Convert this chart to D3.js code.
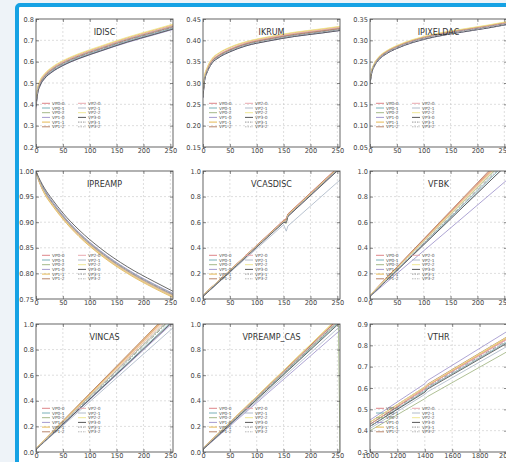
<!DOCTYPE html>
<html>
<head>
<meta charset="utf-8">
<script src="https://cdn.jsdelivr.net/npm/d3@7"></script>
<style>
html, body { margin: 0; padding: 0; background: #eef3f8; }
svg { display: block; font-family: "DejaVu Sans", sans-serif; }
</style>
</head>
<body>
<div id="chart"></div>
<script>
// chart values
const seriesNames = ["VP0-0", "VP0-1", "VP0-2", "VP1-0", "VP1-1", "VP1-2",
                     "VP2-0", "VP2-1", "VP2-2", "VP3-0", "VP3-1", "VP3-2"]
const panelTitles = ["IDISC", "IKRUM", "IPIXELDAC", "IPREAMP", "VCASDISC", "VFBK",
                     "VINCAS", "VPREAMP_CAS", "VTHR"]

const xDacTicks = [0, 50, 100, 150, 200, 250]
const xThrTicks = [1000, 1200, 1400, 1600, 1800, 2000]

const yTicksIDISC = [0.2, 0.3, 0.4, 0.5, 0.6, 0.7, 0.8]
const yTicksIKRUM = [0.15, 0.20, 0.25, 0.30, 0.35, 0.40, 0.45]
const yTicksIPIXELDAC = [0.05, 0.10, 0.15, 0.20, 0.25, 0.30, 0.35]
const yTicksIPREAMP = [0.75, 0.80, 0.85, 0.90, 0.95, 1.00]
const yTicksUnit = [0.0, 0.2, 0.4, 0.6, 0.8, 1.0]
const yTicksVTHR = [0.3, 0.4, 0.5, 0.6, 0.7, 0.8, 0.9]

const xCurve = [0, 3, 8, 16, 30, 50, 80, 120, 170, 220, 255]

const idiscValues = [
  [0.40, 0.460, 0.500, 0.530, 0.562, 0.592, 0.625, 0.660, 0.702, 0.738, 0.763],
  [0.39, 0.455, 0.495, 0.526, 0.557, 0.587, 0.620, 0.655, 0.697, 0.733, 0.758],
  [0.41, 0.470, 0.505, 0.535, 0.566, 0.596, 0.629, 0.664, 0.706, 0.742, 0.767],
  [0.38, 0.448, 0.488, 0.520, 0.551, 0.581, 0.614, 0.649, 0.690, 0.726, 0.751],
  [0.42, 0.475, 0.512, 0.541, 0.572, 0.602, 0.635, 0.670, 0.712, 0.748, 0.773],
  [0.40, 0.462, 0.501, 0.532, 0.564, 0.594, 0.627, 0.662, 0.704, 0.740, 0.765],
  [0.41, 0.468, 0.506, 0.537, 0.568, 0.598, 0.631, 0.666, 0.708, 0.744, 0.769],
  [0.39, 0.452, 0.492, 0.523, 0.554, 0.584, 0.617, 0.652, 0.694, 0.730, 0.755],
  [0.42, 0.478, 0.515, 0.544, 0.575, 0.605, 0.638, 0.673, 0.715, 0.751, 0.776],
  [0.39, 0.450, 0.490, 0.521, 0.552, 0.582, 0.615, 0.650, 0.692, 0.728, 0.753],
  [0.40, 0.458, 0.497, 0.528, 0.560, 0.590, 0.623, 0.658, 0.700, 0.736, 0.761],
  [0.40, 0.464, 0.503, 0.534, 0.565, 0.595, 0.628, 0.663, 0.705, 0.741, 0.766]
]

const ikrumValues = [
  [0.270, 0.310, 0.330, 0.349, 0.364, 0.377, 0.391, 0.402, 0.413, 0.421, 0.427],
  [0.268, 0.308, 0.328, 0.347, 0.362, 0.375, 0.389, 0.400, 0.411, 0.419, 0.425],
  [0.272, 0.312, 0.332, 0.351, 0.366, 0.379, 0.393, 0.404, 0.415, 0.423, 0.429],
  [0.265, 0.305, 0.326, 0.345, 0.360, 0.373, 0.387, 0.398, 0.409, 0.417, 0.423],
  [0.276, 0.316, 0.336, 0.355, 0.370, 0.383, 0.396, 0.407, 0.418, 0.426, 0.432],
  [0.271, 0.311, 0.331, 0.350, 0.365, 0.378, 0.392, 0.403, 0.414, 0.422, 0.428],
  [0.273, 0.313, 0.333, 0.352, 0.367, 0.380, 0.394, 0.405, 0.416, 0.424, 0.430],
  [0.267, 0.307, 0.327, 0.346, 0.361, 0.374, 0.388, 0.399, 0.410, 0.418, 0.424],
  [0.277, 0.317, 0.337, 0.356, 0.371, 0.384, 0.397, 0.408, 0.419, 0.427, 0.433],
  [0.266, 0.306, 0.326, 0.345, 0.360, 0.373, 0.387, 0.398, 0.409, 0.417, 0.423],
  [0.269, 0.309, 0.329, 0.348, 0.363, 0.376, 0.390, 0.401, 0.412, 0.420, 0.426],
  [0.268, 0.308, 0.328, 0.347, 0.362, 0.375, 0.389, 0.400, 0.411, 0.419, 0.425]
]

const ipixeldacValues = [
  [0.200, 0.225, 0.242, 0.257, 0.271, 0.284, 0.298, 0.311, 0.322, 0.332, 0.340],
  [0.198, 0.223, 0.240, 0.255, 0.269, 0.282, 0.296, 0.309, 0.320, 0.330, 0.338],
  [0.201, 0.226, 0.243, 0.258, 0.272, 0.285, 0.299, 0.312, 0.323, 0.333, 0.341],
  [0.197, 0.222, 0.239, 0.254, 0.268, 0.281, 0.295, 0.308, 0.319, 0.329, 0.337],
  [0.203, 0.228, 0.245, 0.260, 0.274, 0.287, 0.301, 0.314, 0.325, 0.335, 0.343],
  [0.202, 0.227, 0.244, 0.259, 0.273, 0.286, 0.300, 0.313, 0.324, 0.334, 0.342],
  [0.201, 0.226, 0.243, 0.258, 0.272, 0.285, 0.299, 0.312, 0.323, 0.333, 0.341],
  [0.199, 0.224, 0.241, 0.256, 0.270, 0.283, 0.297, 0.310, 0.321, 0.331, 0.339],
  [0.204, 0.229, 0.246, 0.261, 0.275, 0.288, 0.302, 0.315, 0.326, 0.336, 0.344],
  [0.197, 0.222, 0.239, 0.254, 0.268, 0.281, 0.295, 0.308, 0.319, 0.329, 0.337],
  [0.200, 0.225, 0.242, 0.257, 0.271, 0.284, 0.298, 0.311, 0.322, 0.332, 0.340],
  [0.198, 0.223, 0.240, 0.255, 0.269, 0.282, 0.296, 0.309, 0.320, 0.330, 0.338]
]

const ipreampValues = [
  [1.000, 0.990, 0.977, 0.960, 0.938, 0.911, 0.877, 0.841, 0.805, 0.776, 0.758],
  [1.000, 0.991, 0.978, 0.962, 0.940, 0.913, 0.879, 0.843, 0.807, 0.778, 0.760],
  [1.000, 0.989, 0.976, 0.959, 0.937, 0.910, 0.876, 0.840, 0.804, 0.775, 0.757],
  [1.000, 0.991, 0.979, 0.963, 0.941, 0.914, 0.880, 0.844, 0.808, 0.779, 0.761],
  [0.998, 0.987, 0.973, 0.955, 0.933, 0.906, 0.872, 0.836, 0.800, 0.771, 0.753],
  [0.999, 0.988, 0.974, 0.957, 0.935, 0.908, 0.874, 0.838, 0.802, 0.773, 0.755],
  [1.000, 0.989, 0.975, 0.958, 0.936, 0.909, 0.875, 0.839, 0.803, 0.774, 0.756],
  [1.000, 0.991, 0.978, 0.961, 0.939, 0.912, 0.878, 0.842, 0.806, 0.777, 0.759],
  [0.999, 0.988, 0.975, 0.957, 0.935, 0.908, 0.874, 0.838, 0.802, 0.773, 0.755],
  [1.000, 0.992, 0.981, 0.966, 0.945, 0.918, 0.885, 0.849, 0.813, 0.784, 0.765],
  [1.000, 0.990, 0.977, 0.961, 0.939, 0.912, 0.878, 0.842, 0.806, 0.777, 0.759],
  [1.000, 0.990, 0.978, 0.961, 0.940, 0.913, 0.879, 0.843, 0.807, 0.778, 0.760]
]

const xVcasdisc = [0, 150, 155, 158, 255]
const vcasdiscValues = [
  [0.03, 0.615, 0.63, 0.665, 1.045],
  [0.02, 0.605, 0.61, 0.655, 1.035],
  [0.03, 0.600, 0.59, 0.650, 1.030],
  [0.02, 0.600, 0.60, 0.645, 1.025],
  [0.03, 0.610, 0.62, 0.660, 1.040],
  [0.03, 0.612, 0.62, 0.662, 1.042],
  [0.03, 0.608, 0.61, 0.658, 1.038],
  [0.02, 0.580, 0.53, 0.570, 0.930],
  [0.03, 0.606, 0.61, 0.656, 1.036],
  [0.02, 0.598, 0.60, 0.645, 1.020],
  [0.02, 0.602, 0.60, 0.650, 1.030],
  [0.03, 0.604, 0.61, 0.652, 1.032]
]

const xLinear = [0, 255]
const vfbkValues = [
  [0.03, 1.14], [0.02, 1.07], [0.03, 1.10], [0.02, 0.93], [0.03, 1.13], [0.03, 1.15],
  [0.03, 1.12], [0.02, 1.05], [0.03, 1.11], [0.02, 1.05], [0.02, 1.08], [0.02, 1.09]
]
const vincasValues = [
  [0.03, 1.10], [0.02, 1.03], [0.03, 1.06], [0.02, 1.01], [0.03, 1.11], [0.03, 1.12],
  [0.03, 1.08], [0.02, 0.97], [0.03, 1.09], [0.02, 1.02], [0.02, 1.05], [0.02, 1.07]
]

const xVpreamp = [0, 252, 255]
const vpreampCasValues = [
  [0.03, 1.04, 1.05], [0.02, 1.01, 1.02], [0.03, 1.02, 0.00], [0.02, 0.94, 0.95],
  [0.03, 1.05, 1.06], [0.03, 1.04, 1.05], [0.03, 1.03, 1.04], [0.02, 0.97, 0.98],
  [0.03, 1.05, 1.06], [0.02, 1.00, 1.01], [0.02, 1.02, 1.03], [0.03, 1.03, 1.04]
]

const xVthr = [1000, 1400, 1420, 2000]
const vthrValues = [
  [0.43, 0.595, 0.610, 0.830],
  [0.42, 0.585, 0.600, 0.815],
  [0.40, 0.550, 0.560, 0.770],
  [0.45, 0.620, 0.635, 0.865],
  [0.43, 0.600, 0.612, 0.835],
  [0.44, 0.605, 0.618, 0.840],
  [0.43, 0.598, 0.610, 0.828],
  [0.41, 0.570, 0.582, 0.795],
  [0.44, 0.605, 0.615, 0.838],
  [0.42, 0.580, 0.595, 0.810],
  [0.43, 0.590, 0.605, 0.822],
  [0.42, 0.588, 0.600, 0.818]
]

// layout and style
const width = 506
const height = 462
const colLeft = [36, 203, 370]
const rowTop = [19, 171, 324]
const pw = 137
const ph = 128

const colors = ["#d9777a", "#6aa7b0", "#9bb07a", "#9a8fc9", "#e3b040", "#b0785a",
                "#e8a0a8", "#a8b4c4", "#eee48a", "#444444", "#8a8a8a", "#b0b0b0"]
const dashes = [null, null, null, null, null, null, null, null, null, null, "4,1.5,1,1.5", "3,2"]

const panels = [
  { x: xCurve, values: idiscValues, xDom: [0, 255], xTicks: xDacTicks, yTicks: yTicksIDISC, fmt: ".1f" },
  { x: xCurve, values: ikrumValues, xDom: [0, 255], xTicks: xDacTicks, yTicks: yTicksIKRUM, fmt: ".2f" },
  { x: xCurve, values: ipixeldacValues, xDom: [0, 255], xTicks: xDacTicks, yTicks: yTicksIPIXELDAC, fmt: ".2f" },
  { x: xCurve, values: ipreampValues, xDom: [0, 255], xTicks: xDacTicks, yTicks: yTicksIPREAMP, fmt: ".2f" },
  { x: xVcasdisc, values: vcasdiscValues, xDom: [0, 255], xTicks: xDacTicks, yTicks: yTicksUnit, fmt: ".1f" },
  { x: xLinear, values: vfbkValues, xDom: [0, 255], xTicks: xDacTicks, yTicks: yTicksUnit, fmt: ".1f" },
  { x: xLinear, values: vincasValues, xDom: [0, 255], xTicks: xDacTicks, yTicks: yTicksUnit, fmt: ".1f" },
  { x: xVpreamp, values: vpreampCasValues, xDom: [0, 255], xTicks: xDacTicks, yTicks: yTicksUnit, fmt: ".1f" },
  { x: xVthr, values: vthrValues, xDom: [1000, 2000], xTicks: xThrTicks, yTicks: yTicksVTHR, fmt: ".1f" }
]

const svg = d3.select('#chart')
  .append('svg')
  .attr('width', width)
  .attr('height', height)

// white card with the blue frame
svg.append('rect')
  .attr('x', 17).attr('y', 5)
  .attr('width', 620).attr('height', 620)
  .attr('rx', 3)
  .attr('fill', '#ffffff')
  .attr('stroke', '#16a2e4')
  .attr('stroke-width', 4)

const drawPanel = function (p, i) {
  const left = colLeft[i % 3]
  const top = rowTop[Math.floor(i / 3)]
  const yDom = [p.yTicks[0], p.yTicks[p.yTicks.length - 1]]

  const xScale = d3.scaleLinear().domain(p.xDom).range([0, pw])
  const yScale = d3.scaleLinear().domain(yDom).range([ph, 0])

  const g = svg.append('g').attr('transform', 'translate(' + left + ',' + top + ')')

  g.append('clipPath').attr('id', 'clip' + i)
    .append('rect').attr('width', pw).attr('height', ph)

  // dashed grid
  g.append('g').selectAll('line')
    .data(p.xTicks.filter(t => t > p.xDom[0] && t < p.xDom[1]))
    .enter().append('line')
    .attr('x1', d => xScale(d)).attr('x2', d => xScale(d))
    .attr('y1', 0).attr('y2', ph)
    .attr('stroke', '#c8c8c8').attr('stroke-width', 0.6).attr('stroke-dasharray', '2,2')
  g.append('g').selectAll('line')
    .data(p.yTicks.slice(1, -1))
    .enter().append('line')
    .attr('y1', d => yScale(d)).attr('y2', d => yScale(d))
    .attr('x1', 0).attr('x2', pw)
    .attr('stroke', '#c8c8c8').attr('stroke-width', 0.6).attr('stroke-dasharray', '2,2')

  // series
  const line = d3.line()
    .x(d => xScale(d[0]))
    .y(d => yScale(d[1]))
    .curve(p.x.length > 6 ? d3.curveMonotoneX : d3.curveLinear)

  g.append('g').attr('clip-path', 'url(#clip' + i + ')')
    .selectAll('path')
    .data(p.values)
    .enter().append('path')
    .attr('d', vals => line(vals.map((v, k) => [p.x[k], v])))
    .attr('fill', 'none')
    .attr('stroke', (d, k) => colors[k])
    .attr('stroke-width', 1)
    .attr('stroke-opacity', 0.8)
    .attr('stroke-dasharray', (d, k) => dashes[k])

  // axes with inward ticks on all sides
  const yAxis = d3.axisLeft(yScale).tickValues(p.yTicks).tickFormat(d3.format(p.fmt)).tickSize(-3).tickPadding(2)
  const xAxis = d3.axisBottom(xScale).tickValues(p.xTicks).tickFormat(d3.format('d')).tickSize(-3).tickPadding(2)

  const ya = g.append('g').call(yAxis)
  const xa = g.append('g').attr('transform', 'translate(0,' + ph + ')').call(xAxis)
  g.append('g').attr('transform', 'translate(' + pw + ',0)')
    .call(d3.axisRight(yScale).tickValues(p.yTicks).tickFormat('').tickSize(-3))
  g.append('g')
    .call(d3.axisTop(xScale).tickValues(p.xTicks).tickFormat('').tickSize(-3))

  g.selectAll('.domain').remove()
  g.selectAll('.tick line').attr('stroke', '#555').attr('stroke-width', 0.7)
  ya.selectAll('text').attr('font-size', 6.6).attr('fill', '#444').attr('font-family', 'DejaVu Sans')
  xa.selectAll('text').attr('font-size', 6.6).attr('fill', '#444').attr('font-family', 'DejaVu Sans').attr('dy', '0.6em')

  g.append('rect')
    .attr('width', pw).attr('height', ph)
    .attr('fill', 'none').attr('stroke', '#555').attr('stroke-width', 0.9)

  // title inside the plot
  g.append('text')
    .attr('x', pw / 2).attr('y', 16)
    .attr('text-anchor', 'middle')
    .attr('font-size', 8)
    .attr('fill', '#333')
    .text(panelTitles[i])

  // legend
  const legend = g.append('g').attr('transform', 'translate(6,' + (ph - 43.7) + ')')
  const items = legend.selectAll('g')
    .data(seriesNames)
    .enter().append('g')
    .attr('transform', (d, k) => 'translate(' + (k < 6 ? 0 : 36) + ',' + ((k % 6) * 4.7) + ')')
  items.append('line')
    .attr('x1', 0).attr('x2', 8)
    .attr('stroke', (d, k) => colors[k])
    .attr('stroke-width', 0.9)
    .attr('stroke-dasharray', (d, k) => dashes[k] ? '1.5,1' : null)
  items.append('text')
    .attr('x', 10).attr('dy', '0.35em')
    .attr('font-size', 4.3)
    .attr('fill', '#555')
    .text(d => d)
}

panels.forEach(drawPanel)
</script>
</body>
</html>
